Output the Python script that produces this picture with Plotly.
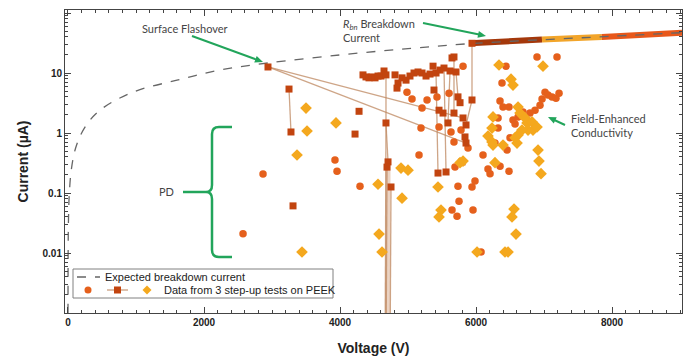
import math
import plotly.graph_objects as go

# ---------------- data ----------------
# expected breakdown current (dashed curve)
exp_v = [0.2, 1, 4, 10, 20, 50, 118, 250, 470, 956, 1603, 2235, 2941, 4000, 5000, 5941, 7000, 8000, 9030]
exp_i = [0.001, 0.005, 0.02, 0.05, 0.1, 0.25, 0.59, 1.25, 2.4, 4.8, 7.6, 11.2, 14.7, 20, 25.5, 31, 36, 41, 47]

# R_bn breakdown current, three coloured segments
bd_v = [5910, 6970, 7850, 9030]
bd_i = [31.3, 36.2, 40.0, 47.0]

# test 1 (circles)
circ_v = [2574, 2868, 3926, 3956, 4294, 4985, 5059, 5280, 5206, 5191, 5162, 5426, 5603, 5456, 5632,
          5676, 5779, 5809, 5735, 5750, 5647, 5721, 5691, 5941, 5985, 5956, 6176, 6206, 6353, 6485,
          6074, 6897, 7191, 6441, 6382, 6353, 6397, 6485, 7015, 7059, 7118, 7176, 7221, 6971, 6941,
          6868, 6544, 6574, 6618, 6691, 6794, 6324, 6324, 6500, 6279, 6456, 5882, 6103]
circ_i = [0.021, 0.207, 0.355, 0.23, 0.13, 4.8, 3.7, 3.55, 2.6, 1.21, 0.43, 4.0, 4.6, 1.26, 1.04,
          0.71, 1.12, 13, 0.13, 0.073, 0.052, 0.041, 0.27, 0.126, 0.158, 0.052, 0.25, 0.21, 0.28, 0.23,
          0.0104, 18.5, 18.5, 13, 6.8, 3.4, 2.7, 2.7, 4.8, 4.3, 4.0, 3.8, 4.6, 3.7, 2.9,
          2.4, 1.65, 1.41, 1.85, 2.24, 2.15, 1.78, 1.21, 0.83, 0.68, 0.52, 0.56, 0.43]

# test 2 (squares, consecutive readings joined by lines; 1e-4 = reading below the axis)
sq_v = [2941, 3250, 3279, 3309, 4221, 4280, 4676, 4706, 4691, 4750, 4698, 4676, 4735, 4662,
        4338, 4382, 4426, 4471, 4515, 4559, 4603, 4647, 4676, 4809, 4853, 4838, 4912, 4971, 5029,
        5088, 5147, 5206, 5265, 5324, 5368, 5412, 5471, 5529, 5618, 5647, 5676, 5706,
        5441, 5559, 5382, 5456, 5515, 5588, 5676, 5735, 5765, 5809, 5853, 5838, 5853, 5794, 5941, 5941]
sq_i = [12.6, 5.4, 1.04, 0.061, 0.96, 2.3, 1.47, 0.33, 0.27, 0.126, 1e-4, 1e-4, 1e-4, 1e-4,
        9.3, 8.6, 8.3, 8.6, 8.3, 8.9, 8.9, 10.8, 9.3, 9.3, 6.8, 5.6, 8.3, 7.6, 8.9,
        10, 10.4, 10, 8.9, 9.6, 13, 10, 11.2, 12.1, 10.8, 17.8, 18.5, 10.4,
        0.215, 0.224, 5.2, 2.4, 2.15, 1.47, 2.15, 4.0, 3.2, 1.78, 1.36, 0.86, 0.68, 0.33, 3.55, 31.3]
sq_links = [(0, 51), (0, 54), (1, 2), (22, 6), (6, 7), (6, 13), (8, 11), (9, 12),
            (35, 42), (37, 43), (38, 47), (40, 48), (41, 49), (49, 50), (57, 56), (56, 52)]
sq_bar = (7, 10)  # the repeated drops to ~0 current that form the wide band

# test 3 (diamonds)
dia_v = [3368, 3500, 3515, 3941, 3441, 4559, 4574, 4618, 4897, 5000, 4912, 5441, 5485, 5456, 5765,
         5809, 6279, 6926, 6956, 6559, 6529, 6588, 6015, 6426, 6471, 6338, 6985, 6515, 6544, 6618,
         6647, 6721, 6750, 6824, 6765, 6838, 6897, 6676, 6618, 6574, 6603, 6250, 6235, 6176, 6235,
         6250, 6397, 6912]
dia_i = [0.43, 2.6, 1.08, 1.47, 0.0104, 0.14, 0.0207, 0.0104, 0.26, 0.24, 0.082, 0.126, 0.052, 0.04, 0.32,
         0.34, 0.32, 0.34, 0.21, 0.054, 0.04, 0.0207, 0.0104, 0.0104, 0.0104, 13.6, 13, 7.9, 6.3, 2.7,
         2.15, 1.78, 1.47, 1.53, 1.12, 1.12, 1.26, 1.12, 0.93, 0.83, 0.68, 1.85, 1.21, 0.89, 0.71,
         0.63, 0.63, 0.52]

x_ticks = [0, 2000, 4000, 6000, 8000]
y_ticks = [0.01, 0.1, 1, 10, 100]
y_labels = ["0.01", "0.1", "1", "10", "100"]

# ---------------- styling ----------------
C_CIRC = "#E5601C"
C_SQ = "#C2440F"
C_DIA = "#F4A81E"
C_LINK = "rgba(190,135,95,0.75)"
C_BAND = "#EBD3C3"
C_BAR = ["#A4380B", "#F2A52A", "#E8581A"]
GREEN = "#22A55B"
TXT = "#454545"

OFF = 8                      # page offset of the figure (body margin)
W, H = 686, 352
L, R, T, B = 57, 12, 2, 47
PW, PH = W - L - R, H - T - B


def px(x):
    return (x - OFF - L) / PW


def py(y):
    return (H - B - (y - OFF)) / PH


def pts(a, b):
    return f"{px(a):.5f},{py(b):.5f}"


fig = go.Figure()

# breakdown segments
for k in range(3):
    fig.add_trace(go.Scatter(x=bd_v[k:k + 2], y=bd_i[k:k + 2], mode="lines",
                             line=dict(color=C_BAR[k], width=6), hoverinfo="skip", showlegend=False))

# expected breakdown current
fig.add_trace(go.Scatter(x=exp_v, y=exp_i, mode="lines", line=dict(color="#666666", width=1.3, dash="dash"),
                         line_shape="spline", name="Expected breakdown current", showlegend=False))

# wide band of drops to zero current
a, b = sq_bar
fig.add_trace(go.Scatter(x=[sq_v[a], sq_v[b]], y=[sq_i[a], sq_i[b]], mode="lines",
                         line=dict(color=C_BAND, width=5), hoverinfo="skip", showlegend=False))

# links between square readings
lx, ly = [], []
for a, b in sq_links:
    lx += [sq_v[a], sq_v[b], None]
    ly += [sq_i[a], sq_i[b], None]
fig.add_trace(go.Scatter(x=lx, y=ly, mode="lines", line=dict(color=C_LINK, width=1.3),
                         hoverinfo="skip", showlegend=False))

fig.add_trace(go.Scatter(x=circ_v, y=circ_i, mode="markers", showlegend=False,
                         marker=dict(symbol="circle", size=7.5, color=C_CIRC)))
fig.add_trace(go.Scatter(x=sq_v, y=sq_i, mode="markers", showlegend=False,
                         marker=dict(symbol="square", size=7, color=C_SQ)))
fig.add_trace(go.Scatter(x=dia_v, y=dia_i, mode="markers", showlegend=False,
                         marker=dict(symbol="diamond", size=9, color=C_DIA)))

tickfont = dict(family="Liberation Sans", size=10, color="#222222", weight="bold")
titlefont = dict(family="Liberation Sans", size=14, color="#222222", weight="bold")

minor_y = [m * 10 ** e for e in range(-3, 2) for m in range(2, 10)]

fig.update_xaxes(range=[-44, 9029], tickvals=x_ticks, ticks="inside", ticklen=6, tickcolor="#444",
                 showline=True, linecolor="#444", linewidth=1, mirror="ticks", showgrid=False,
                 zeroline=False, tickfont=tickfont, automargin=False,
                 minor=dict(dtick=200, tick0=0, ticks="inside", ticklen=3, tickcolor="#444"),
                 title=dict(text="Voltage (V)", font=titlefont, standoff=16))
fig.update_yaxes(type="log", range=[-3.0, 2.05], tickvals=y_ticks, ticktext=y_labels, ticks="inside",
                 ticklen=6, tickcolor="#444", showline=True, linecolor="#444", linewidth=1,
                 mirror="ticks", showgrid=False, zeroline=False, tickfont=tickfont, automargin=False,
                 minor=dict(tickvals=minor_y, ticks="inside", ticklen=3, tickcolor="#444"),
                 title=dict(text="Current (µA)", font=titlefont, standoff=10))

shapes = []
# brace for PD
brace = (f"M {pts(232,127)} L {pts(219,127)} Q {pts(212,127)} {pts(212,134)} L {pts(212,185)} "
         f"Q {pts(212,192)} {pts(206,192)} Q {pts(212,192)} {pts(212,199)} L {pts(212,250)} "
         f"Q {pts(212,257)} {pts(219,257)} L {pts(232,257)}")
shapes.append(dict(type="path", xref="paper", yref="paper", path=brace, line=dict(color=GREEN, width=2.5)))
shapes.append(dict(type="line", xref="paper", yref="paper", x0=px(183), y0=py(192), x1=px(206), y1=py(192),
                   line=dict(color=GREEN, width=2.5)))

# green arrows (line + filled head)
arrows = [((192, 36), (263, 62)), ((423, 23), (486, 36)), ((565, 125), (548, 117))]
for (tx, ty), (hx, hy) in arrows:
    d = math.hypot(hx - tx, hy - ty)
    ux, uy = (hx - tx) / d, (hy - ty) / d
    bx, by = hx - 8 * ux, hy - 8 * uy
    shapes.append(dict(type="line", xref="paper", yref="paper", x0=px(tx), y0=py(ty), x1=px(bx + ux),
                       y1=py(by + uy), line=dict(color=GREEN, width=2)))
    shapes.append(dict(type="path", xref="paper", yref="paper",
                       path=f"M {pts(hx, hy)} L {pts(bx - 3.5 * uy, by + 3.5 * ux)} "
                            f"L {pts(bx + 3.5 * uy, by - 3.5 * ux)} Z",
                       line=dict(width=0), fillcolor=GREEN))

# legend box (drawn by hand: one row holds three symbols)
shapes.append(dict(type="rect", xref="paper", yref="paper", x0=px(73), y0=py(298), x1=px(333), y1=py(269),
                   line=dict(color="#808080", width=1), fillcolor="white", layer="above"))
shapes.append(dict(type="line", xref="paper", yref="paper", x0=px(77), y0=py(277), x1=px(100), y1=py(277),
                   line=dict(color="#666666", width=1.3, dash="dash"), layer="above"))
shapes.append(dict(type="circle", xref="paper", yref="paper", x0=px(84.5), y0=py(293.5), x1=px(91.5),
                   y1=py(286.5), line=dict(width=0), fillcolor=C_CIRC, layer="above"))
shapes.append(dict(type="line", xref="paper", yref="paper", x0=px(107), y0=py(290), x1=px(128), y1=py(290),
                   line=dict(color=C_LINK, width=1.4), layer="above"))
shapes.append(dict(type="rect", xref="paper", yref="paper", x0=px(114), y0=py(293.5), x1=px(121),
                   y1=py(286.5), line=dict(width=0), fillcolor=C_SQ, layer="above"))
shapes.append(dict(type="path", xref="paper", yref="paper",
                   path=f"M {pts(147,285.5)} L {pts(151.5,290)} L {pts(147,294.5)} L {pts(142.5,290)} Z",
                   line=dict(width=0), fillcolor=C_DIA, layer="above"))

afont = dict(family="Lato", size=11, color=TXT)
lfont = dict(family="Liberation Sans", size=11, color="#222222")
ann = [
    dict(x=px(103), y=py(277), text="Expected breakdown current", xanchor="left", font=lfont),
    dict(x=px(162), y=py(290), text="Data from 3 step-up tests on PEEK", xanchor="left", font=lfont),
    dict(x=px(185), y=py(29), text="Surface Flashover", xanchor="center", font=afont),
    dict(x=px(341), y=py(30), text="<i>R</i><sub><i>bn</i></sub> Breakdown<br>Current", xanchor="left",
         align="left", font=afont),
    dict(x=px(569), y=py(125), text="Field-Enhanced<br>Conductivity", xanchor="left", align="left", font=afont),
    dict(x=px(166), y=py(192), text="PD", xanchor="center", font=afont),
]
for a in ann:
    a.update(xref="paper", yref="paper", yanchor="middle", showarrow=False)

fig.update_layout(width=W, height=H, margin=dict(l=L, r=R, t=T, b=B), template="none",
                  paper_bgcolor="white", plot_bgcolor="white", showlegend=False,
                  shapes=shapes, annotations=ann)

fig.write_html("out.html")
